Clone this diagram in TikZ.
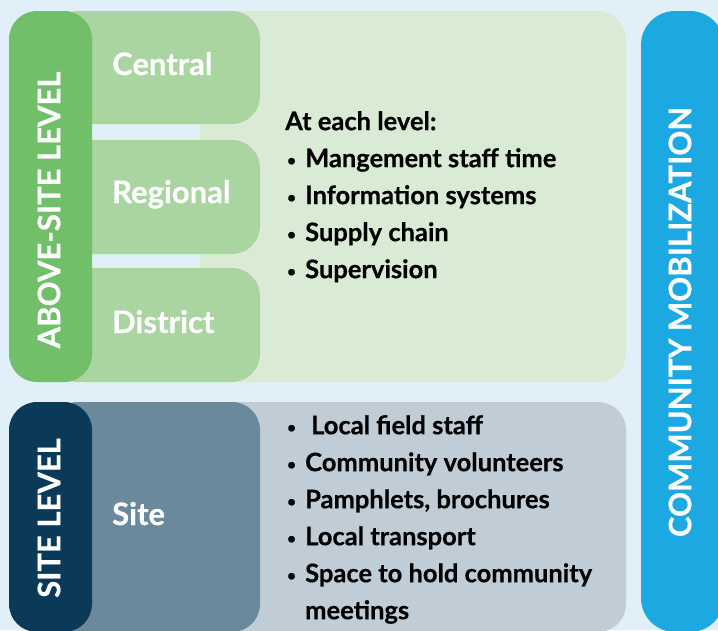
\documentclass[tikz,border=0pt]{standalone}
\usepackage{fontspec}
\setmainfont{Lato}[BoldFeatures={FakeBold=0.5}]
\usetikzlibrary{positioning}
\definecolor{skybg}{HTML}{E1EFF9}
\definecolor{upfill}{HTML}{DAEBD5}
\definecolor{levelfill}{HTML}{AAD5A0}
\definecolor{abovefill}{HTML}{72BF6A}
\definecolor{lowfill}{HTML}{C0CDD6}
\definecolor{sitefill}{HTML}{6A899C}
\definecolor{sitebarfill}{HTML}{0B3A58}
\definecolor{commfill}{HTML}{1CA9E1}
\newcommand{\bul}{\makebox[20pt][l]{\hspace{2pt}\raisebox{1.5pt}{\fontsize{15}{15}\selectfont•}}}
\tikzset{panel/.style={rectangle,rounded corners=28pt,inner sep=0pt,draw=none},
         bar label/.style={rotate=90,text=white,inner sep=0pt,font=\fontsize{31}{31}\selectfont\bfseries},
         level label/.style={text=white,inner sep=0pt,anchor=base west,font=\fontsize{31}{31}\selectfont\bfseries},
         list text/.style={inner sep=0pt,anchor=north west,align=left,font=\fontsize{25.5}{37}\selectfont\bfseries},
}
\begin{document}
\begin{tikzpicture}[x=1pt,y=-1pt]
\fill[skybg] (0,0) rectangle (718,630);
\clip (0,0) rectangle (718,630);
% upper part
\node[panel,fill=upfill,minimum width=426pt,minimum height=371pt] (uppanel) at (413,196.5) {};
\node[panel,fill=levelfill,minimum width=210pt,minimum height=113pt] (central) at (155,67.5) {};
\node[panel,fill=levelfill,minimum width=210pt,minimum height=114pt] (regional) at (155,197) {};
\node[panel,fill=levelfill,minimum width=210pt,minimum height=114pt] (district) at (155,325) {};
\node[panel,fill=abovefill,minimum width=83pt,minimum height=371pt] (above) at (50.5,196.5) {};
% lower part
\node[panel,fill=lowfill,minimum width=426pt,minimum height=230pt] (lowpanel) at (413,517) {};
\node[panel,fill=sitefill,minimum width=210pt,minimum height=230pt] (site) at (155,517) {};
\node[panel,fill=sitebarfill,minimum width=83pt,minimum height=230pt] (sitebar) at (50.5,517) {};
% right bar
\node[panel,fill=commfill,rounded corners=34pt,minimum width=83pt,minimum height=621pt] (community) at (682.5,321.5) {};
% labels
\node[bar label] (abovetext) at (49,210) {ABOVE-SITE LEVEL};
\node[bar label] (sitebartext) at (49,518) {SITE LEVEL};
\node[bar label] (commtext) at (680,322) {COMMUNITY MOBILIZATION};
\node[level label] (centraltext) at (112,75) {Central};
\node[level label] (regionaltext) at (112,203) {Regional};
\node[level label] (districttext) at (112,333) {District};
\node[level label] (sitetext) at (112,525) {Site};
% lists
\node[list text] (uplist) at (285,111) {At each level:\\
  \bul Mangement staff time\\
  \bul Information systems\\
  \bul Supply chain\\
  \bul Supervision};
\node[list text] (lowlist) at (285,415) {\bul\hspace{6pt}Local field staff\\
  \bul Community volunteers\\
  \bul Pamphlets, brochures\\
  \bul Local transport\\
  \bul Space to hold community\\
  \hspace{20pt}meetings};
\end{tikzpicture}
\end{document}
